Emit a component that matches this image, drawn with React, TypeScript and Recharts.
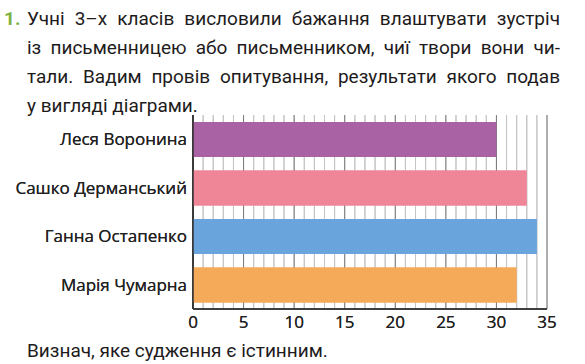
import React from 'react';
import { BarChart, Bar, XAxis, YAxis, CartesianGrid, Cell, ReferenceLine } from 'recharts';

const categories = ['Леся Воронина', 'Сашко Дерманський', 'Ганна Остапенко', 'Марія Чумарна'];
const values = [30, 33, 34, 32];
const colors = ['#a962a4', '#ef8697', '#69a5dc', '#f5aa5a'];
const majorTicks = [0, 5, 10, 15, 20, 25, 30, 35];
const minorTicks = [0, 1, 2, 3, 4, 5, 6, 7, 8, 9, 10, 11, 12, 13, 14, 15, 16, 17, 18, 19, 20, 21, 22, 23, 24, 25, 26, 27, 28, 29, 30, 31, 32, 33, 34, 35];
const introLines = [
  'Учні 3–х класів висловили бажання влаштувати зустріч',
  'із письменницею або письменником, чиї твори вони чи-',
  'тали. Вадим провів опитування, результати якого подав',
  'у вигляді діаграми.',
];
const question = 'Визнач, яке судження є істинним.';

const data = categories.map((name, i) => ({ name, value: values[i] }));

const textFont = 'Roboto, "Noto Sans", sans-serif';
const chartFont = '"Open Sans", Lato, sans-serif';

const gen = (ticks: number[]) => (props: any) => {
  const scale = props?.xAxis?.scale;
  if (scale && typeof scale === 'function') return ticks.map((t) => scale(t));
  if (scale && typeof scale.map === 'function') return ticks.map((t) => scale.map(t));
  return [];
};

const layerStyle: React.CSSProperties = { position: 'absolute', left: 0, top: 0 };

function Axes() {
  return null;
}

export default function App() {
  const xAxisEl = (
    <XAxis
      type="number"
      domain={[0, 35]}
      ticks={majorTicks}
      interval={0}
      height={55}
      tickLine={false}
      tickSize={0}
      tickMargin={7}
      axisLine={{ stroke: '#333', strokeWidth: 1.5 }}
      tick={{ fill: '#222', fontSize: 17, fontFamily: chartFont }}
    />
  );
  const yAxisEl = (
    <YAxis
      type="category"
      dataKey="name"
      width={193}
      tickLine={false}
      tickSize={0}
      tickMargin={6}
      axisLine={{ stroke: '#333', strokeWidth: 1.5 }}
      tick={{ fill: '#222', fontSize: 17, fontFamily: chartFont }}
    />
  );
  const barEl = (
    <Bar dataKey="value" isAnimationActive={false}>
      {data.map((d, i) => (
        <Cell key={d.name} fill={colors[i]} />
      ))}
    </Bar>
  );
  return (
    <div style={{ position: 'absolute', left: 0, top: 0, width: 585, height: 364, background: '#fff', overflow: 'hidden' }}>
      <div style={{ position: 'absolute', left: 4, top: 4, fontFamily: textFont, fontSize: 19, lineHeight: '29px', fontWeight: 700, color: '#7cb342' }}>1.</div>
      {introLines.map((line, i) => (
        <div
          key={i}
          style={{
            position: 'absolute',
            left: 27,
            top: 4 + i * 29,
            width: 533,
            fontFamily: textFont,
            fontSize: 19,
            lineHeight: '29px',
            fontWeight: 400,
            color: '#1e1b1c',
            textAlign: i < 3 ? 'justify' : 'left',
            textAlignLast: i < 3 ? 'justify' : 'left',
            whiteSpace: 'nowrap',
          }}
        >
          {line}
        </div>
      ))}
      <div style={{ position: 'absolute', left: 27, top: 336, fontFamily: textFont, fontSize: 19, lineHeight: '29px', fontWeight: 400, color: '#1e1b1c' }}>
        {question}
      </div>

      {/* grid layer */}
      <div style={layerStyle}>
        <BarChart width={585} height={364} data={data} layout="vertical" margin={{ top: 115, right: 38, bottom: 0, left: 0 }} barSize={35}>
          <CartesianGrid horizontal={false} stroke="#c4c4c4" strokeWidth={1} verticalCoordinatesGenerator={gen(minorTicks)} />
          {minorTicks.map((t) => (
            <ReferenceLine key={'m' + t} x={t} stroke={t % 5 === 0 ? '#7a7a7a' : '#c4c4c4'} strokeWidth={1} />
          ))}
          {xAxisEl}
          {yAxisEl}
          {barEl}
        </BarChart>
      </div>

      {/* bars and axes layer, drawn over the grid */}
      <div style={layerStyle}>
        <BarChart width={585} height={364} data={data} layout="vertical" margin={{ top: 115, right: 38, bottom: 0, left: 0 }} barSize={35}>
          {xAxisEl}
          {yAxisEl}
          {barEl}
        </BarChart>
      </div>
      <Axes />
    </div>
  );
}
